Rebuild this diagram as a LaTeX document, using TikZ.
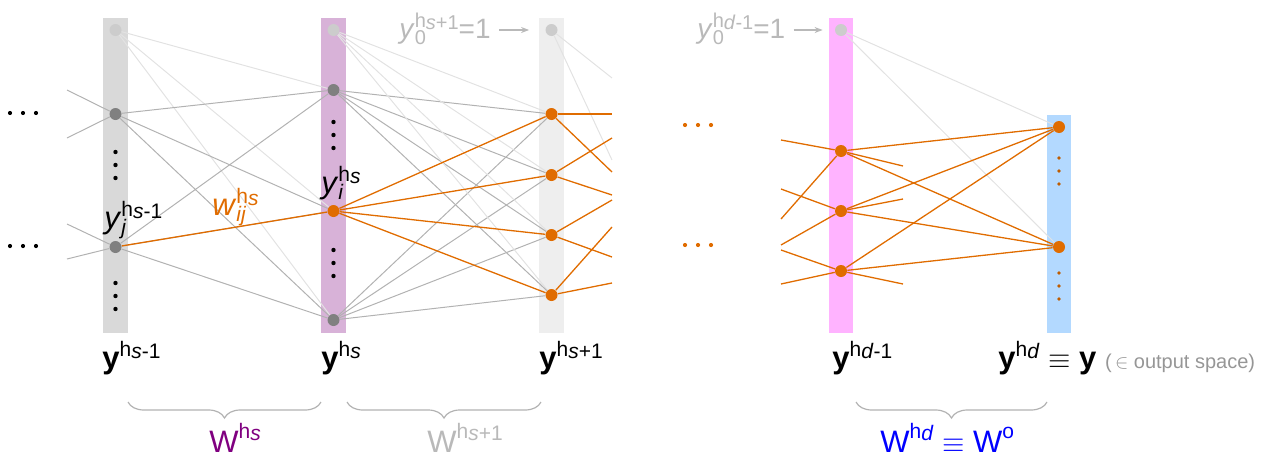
\documentclass[tikz,border=0pt]{standalone}
\usepackage{amsmath}
\usepackage{fontspec}
\setmainfont{Liberation Sans}
\usepackage{tikz}
\usetikzlibrary{arrows.meta, decorations.pathreplacing}
\definecolor{nn_orange}{RGB}{224,108,0}
\definecolor{nn_gray}{RGB}{128,128,128}
\definecolor{nn_edge}{RGB}{178,178,178}
\definecolor{nn_faint}{RGB}{226,226,226}
\definecolor{nn_label}{RGB}{185,185,185}
\definecolor{nn_note}{RGB}{150,150,150}
\definecolor{nn_purple}{RGB}{128,0,128}
\definecolor{bar_prev}{RGB}{217,217,217}
\definecolor{bar_cur}{RGB}{216,178,216}
\definecolor{bar_next}{RGB}{238,238,238}
\definecolor{bar_last}{RGB}{255,179,255}
\definecolor{bar_out}{RGB}{179,217,255}

\newcommand{\bigf}{\fontsize{15.5pt}{18pt}\selectfont}
\newcommand{\biasf}{\fontsize{14pt}{16pt}\selectfont}
\newcommand{\supf}{\fontsize{10.5pt}{11pt}\selectfont}
\newcommand{\smallsupf}{\fontsize{10pt}{10pt}\selectfont}
\newcommand{\hidx}[1]{h\raisebox{-1pt}{#1}}
\newcommand{\sps}[2][6pt]{\raisebox{#1}{\supf #2}}
\newcommand{\spsb}[2]{\rlap{\raisebox{-3pt}{\supf #2}}\raisebox{6pt}{\supf #1}}
\newcommand{\bsb}[2]{\rlap{\raisebox{-3pt}{\smallsupf #2}}\raisebox{5.5pt}{\smallsupf #1}}

\begin{document}
\begin{tikzpicture}[x=0.5pt, y=-0.5pt, >={Stealth[length=4pt, width=3pt]},
    unit/.style={circle, fill=nn_gray, inner sep=0pt, minimum size=6pt},
    biasunit/.style={unit, fill=black!20},
    hotunit/.style={unit, fill=nn_orange},
    wline/.style={draw=nn_edge, line width=0.5pt},
    faint/.style={draw=nn_faint, line width=0.5pt},
    hot/.style={draw=nn_orange, line width=0.65pt},
    lbl/.style={inner sep=0pt, font=\bigf},
    brc/.style={draw=nn_edge, line width=0.6pt, decorate, decoration={brace, mirror, amplitude=8pt}}]
  \useasboundingbox (0,0) rectangle (1264,461);
  % layer bars
  \fill[bar_prev] (103,18) rectangle (128,333);
  \fill[bar_cur]  (321,18) rectangle (346,333);
  \fill[bar_next] (539,18) rectangle (564,333);
  \fill[bar_last] (829,18) rectangle (853,333);
  \fill[bar_out]  (1047,115) rectangle (1071,333);

  % units
  \node[biasunit] (p0) at (115.5,30) {};
  \node[unit]     (p1) at (115.5,114) {};
  \node[unit]     (p2) at (115.5,247) {};
  \node[biasunit] (c0) at (333.5,30) {};
  \node[unit]     (c1) at (333.5,90) {};
  \node[hotunit]  (c2) at (333.5,211) {};
  \node[unit]     (c3) at (333.5,320) {};
  \node[biasunit] (n0) at (551.5,30) {};
  \foreach \i/\y in {1/114, 2/175, 3/235, 4/295}
    \node[hotunit] (n\i) at (551.5,\y) {};
  \node[biasunit] (d0) at (841,30) {};
  \foreach \i/\y in {1/151, 2/211, 3/271}
    \node[hotunit] (d\i) at (841,\y) {};
  \node[hotunit] (o1) at (1059,127) {};
  \node[hotunit] (o2) at (1059,247) {};

  % weights into layer s-1
  \foreach \k/\y/\t in {1/90/p1, 2/138/p1, 3/224/p2, 4/259/p2} {
    \coordinate (in\k) at (67,\y);
    \draw[wline] (in\k) -- (\t);
  }
  % layer s-1 -> layer s
  \foreach \b in {1,2,3} \draw[faint] (p0) -- (c\b);
  \foreach \a in {1,2} \foreach \b in {1,2,3} \draw[wline] (p\a) -- (c\b);
  \draw[hot] (p2) -- (c2);
  % layer s -> layer s+1
  \foreach \b in {1,...,4} {
    \draw[faint] (c0) -- (n\b);
    \draw[wline] (c1) -- (n\b);
    \draw[wline] (c3) -- (n\b);
  }
  \foreach \b in {1,...,4} \draw[hot] (c2) -- (n\b);
  % out of layer s+1
  \coordinate (nb1) at (612,78);
  \coordinate (nb2) at (612,160);
  \draw[faint] (n0) -- (nb1);
  \draw[faint] (n0) -- (nb2);
  \foreach \i/\u/\v in {1/114/172, 2/138/195, 3/200/257, 4/227/283} {
    \coordinate (xu\i) at (612,\u);
    \coordinate (xv\i) at (612,\v);
    \draw[hot] (n\i) -- (xu\i);
    \draw[hot] (n\i) -- (xv\i);
  }
  % around layer d-1
  \foreach \i/\u/\v/\w in {1/140/219/166, 2/189/245/199, 3/250/284/284} {
    \coordinate (du\i) at (781,\u);
    \coordinate (dv\i) at (781,\v);
    \coordinate (dw\i) at (903,\w);
    \draw[hot] (du\i) -- (d\i);
    \draw[hot] (dv\i) -- (d\i);
    \draw[hot] (d\i) -- (dw\i);
  }
  % layer d-1 -> output
  \foreach \b in {1,2} \draw[faint] (d0) -- (o\b);
  \foreach \a in {1,2,3} \foreach \b in {1,2} \draw[hot] (d\a) -- (o\b);

  % ellipses
  \foreach \y in {152,165,178,283,296,309} \fill (115.5,\y) circle[radius=1.1pt];
  \foreach \y in {122,135,148,250,263,276} \fill (333.5,\y) circle[radius=1.1pt];
  \foreach \y in {158,171,184,273,286,299} \fill[nn_orange!85!black] (1059,\y) circle[radius=0.9pt];
  \foreach \x in {10,23,36} {
    \fill (\x,113) circle[radius=1.05pt];
    \fill (\x,246) circle[radius=1.05pt];
  }
  \foreach \x in {685,698,711} {
    \fill[nn_orange] (\x,125) circle[radius=1.05pt];
    \fill[nn_orange] (\x,245) circle[radius=1.05pt];
  }

  % unit and weight labels
  \node[lbl, anchor=base west] (yj) at (104,228) {\textit{y}\spsb{\hidx{\textit{s}-1}}{\textit{j}}};
  \node[lbl, anchor=base west] (yi) at (321,193) {\textit{y}\spsb{\hidx{\textit{s}}}{\textit{i}}};
  \node[lbl, anchor=base west, text=nn_orange] (wij) at (212,215) {\textit{w}\spsb{\hidx{\textit{s}}}{\textit{ij}}};
  \node[lbl, anchor=base west, text=nn_label, font=\biasf] (bn) at (399,38) {\textit{y}\bsb{\hidx{\textit{s}+1}}{0}=1};
  \node[lbl, anchor=base west, text=nn_label, font=\biasf] (bd) at (697,38) {\textit{y}\bsb{\hidx{\textit{d}-1}}{0}=1};
  \draw[->, nn_label, line width=0.6pt, shorten <=4pt, shorten >=8pt] (bn.east |- n0) -- (n0);
  \draw[->, nn_label, line width=0.6pt, shorten <=4pt, shorten >=6pt] (bd.east |- d0) -- (d0);

  % layer names
  \node[lbl, anchor=base west] (Yp) at (102,368) {\textbf{y}\sps{\hidx{\textit{s}-1}}};
  \node[lbl, anchor=base west] (Yc) at (321,368) {\textbf{y}\sps{\hidx{\textit{s}}}};
  \node[lbl, anchor=base west] (Yn) at (539,368) {\textbf{y}\sps{\hidx{\textit{s}+1}}};
  \node[lbl, anchor=base west] (Yd) at (832,368) {\textbf{y}\sps{\hidx{\textit{d}-1}}};
  \node[lbl, anchor=base west] (Yo) at (998,368) {\textbf{y}\sps{\hidx{\textit{d}}} $\equiv$ \textbf{y}
    {\color{nn_note}\fontsize{10pt}{12pt}\selectfont (\,$\in$ output space)}};

  % weight matrices
  \draw[brc] (128,402) -- (321,402);
  \draw[brc] (347,402) -- (541,402);
  \draw[brc] (856,402) -- (1047,402);
  \node[lbl, anchor=base west, text=nn_purple] (Ws) at (209,452) {W\sps[7pt]{\hidx{\textit{s}}}};
  \node[lbl, anchor=base west, text=nn_label] (Wn) at (427,452) {W\sps[7pt]{\hidx{\textit{s}+1}}};
  \node[lbl, anchor=base west, text=blue] (Wd) at (880,452) {W\sps[7pt]{\hidx{\textit{d}}} $\equiv$ W\sps[7pt]{o}};
\end{tikzpicture}
\end{document}
